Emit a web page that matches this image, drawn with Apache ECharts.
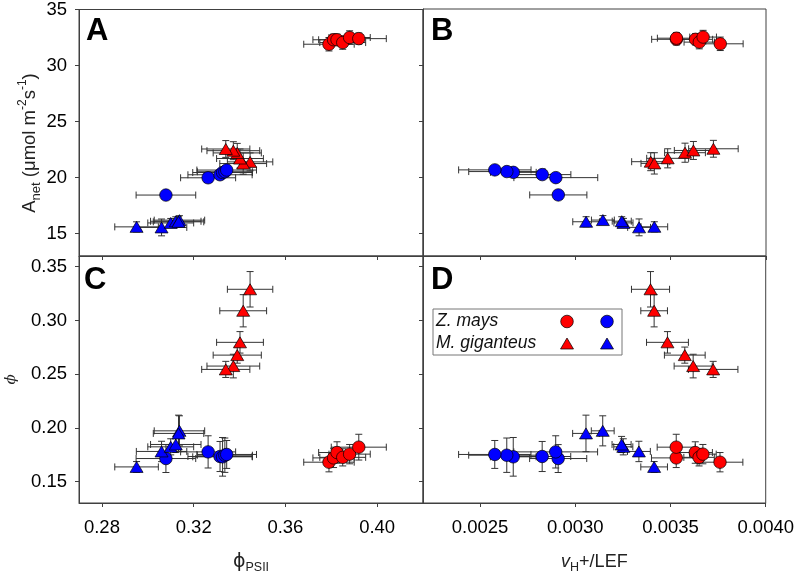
<!DOCTYPE html>
<html><head><meta charset="utf-8">
<script src="https://cdn.jsdelivr.net/npm/echarts@6/dist/echarts.min.js"></script>
<style>html,body{margin:0;padding:0;background:#fff}#c{width:797px;height:575px}</style>
</head><body><div id="c"></div>
<script>
// ---------- DATA ----------
// Z. mays, red
const zmRedPhiPSII    = [0.379, 0.381, 0.3825, 0.385, 0.388, 0.392];
const zmRedPhiPSIIErr = [0.011, 0.009, 0.008, 0.010, 0.009, 0.012];
const zmRedVh         = [0.00376, 0.00353, 0.00363, 0.00365, 0.00367, 0.00353];
const zmRedVhErr      = [0.00012, 0.00013, 0.00009, 0.00008, 0.00007, 0.00010];
const zmRedAnet       = [31.9, 32.3, 32.3, 32.05, 32.5, 32.4];
const zmRedAnetErr    = [0.6, 0.5, 0.5, 0.6, 0.6, 0.5];
const zmRedPhi        = [0.168, 0.172, 0.177, 0.1725, 0.1755, 0.182];
const zmRedPhiErr     = [0.009, 0.009, 0.010, 0.008, 0.009, 0.012];
// Z. mays, blue
const zmBluePhiPSII    = [0.3079, 0.3263, 0.3315, 0.3326, 0.3336, 0.3344];
const zmBluePhiPSIIErr = [0.013, 0.012, 0.014, 0.013, 0.012, 0.013];
const zmBlueVh         = [0.00291, 0.002897, 0.002826, 0.002674, 0.00264, 0.002577];
const zmBlueVhErr      = [0.00015, 0.00022, 0.00015, 0.00012, 0.00020, 0.00019];
const zmBlueAnet       = [18.44, 19.98, 20.25, 20.45, 20.52, 20.67];
const zmBlueAnetErr    = [0.3, 0.3, 0.3, 0.3, 0.3, 0.3];
const zmBluePhi        = [0.1714, 0.1776, 0.1733, 0.173, 0.1745, 0.1752];
const zmBluePhiErr     = [0.013, 0.015, 0.014, 0.018, 0.016, 0.013];
// M. giganteus, red
const mgRedPhiPSII    = [0.3446, 0.3416, 0.3402, 0.339, 0.3373, 0.334];
const mgRedPhiPSIIErr = [0.0099, 0.0102, 0.0102, 0.0105, 0.0115, 0.0105];
const mgRedVh         = [0.003395, 0.003414, 0.003484, 0.003575, 0.003619, 0.003724];
const mgRedVhErr      = [0.00010, 0.00007, 0.00011, 0.000107, 0.00010, 0.00013];
const mgRedAnet       = [21.4, 21.25, 21.7, 22.2, 22.4, 22.55];
const mgRedAnetErr    = [0.8, 0.95, 0.85, 0.85, 0.8, 0.75];
const mgRedPhi        = [0.329, 0.309, 0.2796, 0.2677, 0.2575, 0.2544];
const mgRedPhiErr     = [0.0165, 0.015, 0.010, 0.0075, 0.011, 0.0075];
// M. giganteus, blue
const mgBluePhiPSII    = [0.2951, 0.306, 0.310, 0.3122, 0.3138, 0.3134];
const mgBluePhiPSIIErr = [0.0095, 0.011, 0.010, 0.011, 0.011, 0.011];
const mgBlueVh         = [0.003414, 0.003334, 0.003252, 0.003243, 0.003144, 0.003056];
const mgBlueVhErr      = [0.00007, 0.00006, 0.00005, 0.00005, 0.00006, 0.00007];
const mgBlueAnet       = [15.6, 15.55, 15.95, 16.1, 16.2, 16.05];
const mgBlueAnetErr    = [0.45, 0.75, 0.4, 0.4, 0.4, 0.45];
const mgBluePhi        = [0.1636, 0.178, 0.1823, 0.1845, 0.1972, 0.1948];
const mgBluePhiErr     = [0.005, 0.0095, 0.0075, 0.0075, 0.014, 0.017];

// Tick labels
const phiPSIITicks = [0.28, 0.32, 0.36, 0.40];
const vhTicks      = [0.0025, 0.0030, 0.0035, 0.0040];
const anetTicks    = [15, 20, 25, 30, 35];
const phiTicks     = [0.15, 0.20, 0.25, 0.30, 0.35];
const panelLetters = ['A', 'B', 'C', 'D'];
const legendNames  = ['Z. mays', 'M. giganteus'];

// ---------- BUILD ----------
const groups = [
  {name:'zmRed', symbol:'circle', color:'#ff0000',
   phiPSII:[zmRedPhiPSII, zmRedPhiPSIIErr], vh:[zmRedVh, zmRedVhErr], anet:[zmRedAnet, zmRedAnetErr], phi:[zmRedPhi, zmRedPhiErr]},
  {name:'mgRed', symbol:'triangle', color:'#ff0000',
   phiPSII:[mgRedPhiPSII, mgRedPhiPSIIErr], vh:[mgRedVh, mgRedVhErr], anet:[mgRedAnet, mgRedAnetErr], phi:[mgRedPhi, mgRedPhiErr]},
  {name:'zmBlue', symbol:'circle', color:'#0000ff',
   phiPSII:[zmBluePhiPSII, zmBluePhiPSIIErr], vh:[zmBlueVh, zmBlueVhErr], anet:[zmBlueAnet, zmBlueAnetErr], phi:[zmBluePhi, zmBluePhiErr]},
  {name:'mgBlue', symbol:'triangle', color:'#0000ff',
   phiPSII:[mgBluePhiPSII, mgBluePhiPSIIErr], vh:[mgBlueVh, mgBlueVhErr], anet:[mgBlueAnet, mgBlueAnetErr], phi:[mgBluePhi, mgBluePhiErr]}
];
const panels = [
  {xKey:'phiPSII', yKey:'anet'},
  {xKey:'vh', yKey:'anet'},
  {xKey:'phiPSII', yKey:'phi'},
  {xKey:'vh', yKey:'phi'}
];

const FONT = 'Liberation Sans, Arial, sans-serif';
const AX = '#404040';

function errRender(params, api) {
  const x = api.value(0), y = api.value(1), ex = api.value(2), ey = api.value(3);
  const c = api.coord([x, y]);
  const l = api.coord([x - ex, y])[0], r = api.coord([x + ex, y])[0];
  const t = api.coord([x, y + ey])[1], b = api.coord([x, y - ey])[1];
  const cap = 3.5;
  const st = {stroke:'#333333', lineWidth:1, fill:null};
  const ln = (x1, y1, x2, y2) => ({type:'line', shape:{x1, y1, x2, y2}, style:st});
  return {type:'group', children:[
    ln(l, c[1], r, c[1]), ln(l, c[1]-cap, l, c[1]+cap), ln(r, c[1]-cap, r, c[1]+cap),
    ln(c[0], t, c[0], b), ln(c[0]-cap, t, c[0]+cap, t), ln(c[0]-cap, b, c[0]+cap, b)
  ]};
}

const series = [];
panels.forEach((p, pi) => {
  groups.forEach(g => {
    const xs = g[p.xKey][0], xe = g[p.xKey][1], ys = g[p.yKey][0], ye = g[p.yKey][1];
    const errData = xs.map((v, i) => [v, ys[i], xe[i], ye[i]]);
    series.push({
      type:'custom', xAxisIndex:pi, yAxisIndex:pi, z:1, silent:true,
      renderItem: errRender, data: errData, encode:{x:0, y:1}, clip:false
    });
  });
  groups.forEach(g => {
    const xs = g[p.xKey][0], ys = g[p.yKey][0];
    series.push({
      type:'scatter', xAxisIndex:pi, yAxisIndex:pi, z:3, silent:true,
      symbol:g.symbol, symbolSize: g.symbol === 'circle' ? 12.5 : [13, 11],
      itemStyle:{color:g.color, borderColor:'#000', borderWidth:0.7, opacity:1},
      data: xs.map((v, i) => [v, ys[i]])
    });
  });
});

const grids = [
  {left:79, top:9, width:344, height:247},
  {left:423, top:9, width:343, height:247},
  {left:79, top:256, width:344, height:247},
  {left:423, top:256, width:343, height:247}
].map(g => Object.assign(g, {show:true, borderColor:AX, borderWidth:1, backgroundColor:'transparent', containLabel:false}));

function xAxisDef(gi, isPhiPSII, showLabels) {
  const ticks = isPhiPSII ? phiPSIITicks : vhTicks;
  const ax = {
    type:'value', gridIndex:gi,
    min: isPhiPSII ? 0.27 : 0.0022, max: isPhiPSII ? 0.42 : 0.0040,
    axisLine:{show:true, lineStyle:{color:AX, width:1}},
    axisTick:{show:true, inside:false, length:4, customValues:ticks, lineStyle:{color:AX}},
    axisLabel:{show:showLabels, customValues:ticks, margin:15, color:'#000', fontSize:18.5, fontFamily:FONT,
      formatter: v => isPhiPSII ? v.toFixed(2) : v.toFixed(4)},
    splitLine:{show:false}
  };
  if (showLabels) {
    ax.nameLocation = 'middle';
    if (isPhiPSII) {
      ax.name = '{p|ϕ}{s|PSII}';
      ax.nameGap = 47;
      ax.nameTextStyle = {rich:{
        p:{fontSize:19, fontFamily:'DejaVu Sans, sans-serif', color:'#222', lineHeight:24},
        s:{fontSize:12.5, fontFamily:FONT, color:'#222', verticalAlign:'bottom', lineHeight:14}
      }};
    } else {
      ax.name = '{v|v}{s|H}{n|+/LEF}';
      ax.nameGap = 47;
      ax.nameTextStyle = {rich:{
        v:{fontSize:18, fontFamily:FONT, fontStyle:'italic', color:'#222', lineHeight:24},
        s:{fontSize:12.5, fontFamily:FONT, color:'#222', verticalAlign:'bottom', lineHeight:14},
        n:{fontSize:18, fontFamily:FONT, color:'#222', lineHeight:24}
      }};
    }
  }
  return ax;
}
function yAxisDef(gi, isAnet, showLabels) {
  const ticks = isAnet ? anetTicks : phiTicks;
  const ax = {
    type:'value', gridIndex:gi,
    min: isAnet ? 13 : 0.13, max: isAnet ? 35 : 0.36,
    axisLine:{show:true, lineStyle:{color:AX, width:1}},
    axisTick:{show:true, inside:false, length:4, customValues:ticks, lineStyle:{color:AX}},
    axisLabel:{show:showLabels, customValues:ticks, margin:12, color:'#000', fontSize:18.5, fontFamily:FONT,
      formatter: v => isAnet ? String(Math.round(v)) : v.toFixed(2)},
    splitLine:{show:false}
  };
  if (showLabels && !isAnet) {
    ax.name = 'ϕ';
    ax.nameLocation = 'middle';
    ax.nameRotate = 90;
    ax.nameGap = 60;
    ax.nameTextStyle = {fontSize:15, fontStyle:'italic', fontFamily:'DejaVu Serif, serif', color:'#222'};
  }
  return ax;
}

const letterPos = [[86, 16], [431, 16], [84, 265], [431, 265]];
const graphic = [];
panelLetters.forEach((L, i) => graphic.push({
  type:'text', x:letterPos[i][0], y:letterPos[i][1], z:10,
  style:{text:L, font:'bold 31px ' + FONT, fill:'#000', textAlign:'left', textVerticalAlign:'top'}
}));
// y title for Anet
graphic.push({
  type:'text', x:30, y:143, rotation:Math.PI/2, z:10,
  style:{
    text:'{n|A}{s|net}{n| (μmol m}{u|-2}{n|s}{u|-1}{n|)}',
    align:'center', verticalAlign:'middle',
    rich:{
      n:{fontSize:18.5, fontFamily:FONT, fill:'#222', lineHeight:26},
      s:{fontSize:13, fontFamily:FONT, fill:'#222', verticalAlign:'bottom', lineHeight:13},
      u:{fontSize:12, fontFamily:FONT, fill:'#222', verticalAlign:'top', lineHeight:12}
    }
  }
});
// legend box (in panel D)
const lg = {x:433, y:309, w:189, h:46};
graphic.push({type:'rect', shape:{x:lg.x, y:lg.y, width:lg.w, height:lg.h}, z:20,
  style:{fill:'#fff', stroke:'#777', lineWidth:1}});
const rowsY = [321.5, 343.5];
legendNames.forEach((nm, i) => {
  graphic.push({type:'text', x:436, y:rowsY[i], z:21,
    style:{text:nm, font:'italic 17.5px ' + FONT, fill:'#111', textAlign:'left', textVerticalAlign:'middle'}});
});
[[567, '#ff0000'], [607, '#0000ff']].forEach(([cx, col]) => {
  graphic.push({type:'circle', shape:{cx:cx, cy:rowsY[0], r:6.3}, z:21,
    style:{fill:col, stroke:'#000', lineWidth:0.7}});
  graphic.push({type:'polygon', shape:{points:[[cx, rowsY[1]-5.5], [cx+6.5, rowsY[1]+5.5], [cx-6.5, rowsY[1]+5.5]]}, z:21,
    style:{fill:col, stroke:'#000', lineWidth:0.7}});
});

const option = {
  animation:false,
  backgroundColor:'#fff',
  grid:grids,
  xAxis:[xAxisDef(0, true, false), xAxisDef(1, false, false), xAxisDef(2, true, true), xAxisDef(3, false, true)],
  yAxis:[yAxisDef(0, true, true), yAxisDef(1, true, false), yAxisDef(2, false, true), yAxisDef(3, false, false)],
  series:series,
  graphic:graphic
};
const chart = echarts.init(document.getElementById('c'), null, {renderer:'canvas'});
chart.setOption(option);
</script>
</body></html>
